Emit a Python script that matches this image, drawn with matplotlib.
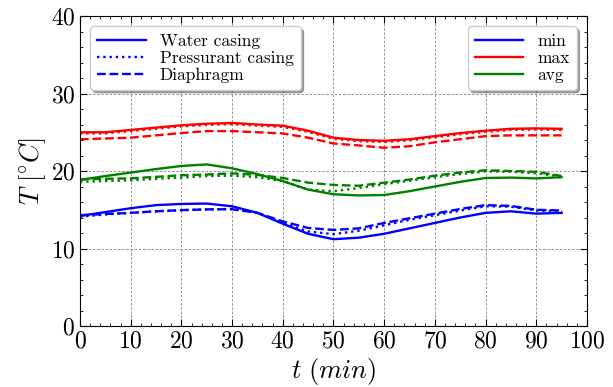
import matplotlib
matplotlib.use("Agg")
import matplotlib.pyplot as plt
from matplotlib.lines import Line2D
from matplotlib.ticker import AutoMinorLocator

# time axis (min)
t = [0, 5, 10, 15, 20, 25, 30, 35, 40, 45, 50, 55, 60, 65, 70, 75, 80, 85, 90, 95]

# water casing (solid)
water_min = [14.2, 14.7, 15.2, 15.6, 15.75, 15.8, 15.45, 14.6, 13.2, 11.9,
             11.2, 11.4, 11.9, 12.6, 13.3, 14.0, 14.6, 14.8, 14.5, 14.6]
water_max = [25.0, 25.0, 25.3, 25.6, 25.9, 26.1, 26.2, 26.0, 25.85, 25.2,
             24.3, 24.0, 23.9, 24.1, 24.5, 24.9, 25.2, 25.45, 25.5, 25.45]
water_avg = [18.85, 19.35, 19.8, 20.25, 20.65, 20.85, 20.35, 19.6, 18.7, 17.6,
             17.0, 16.85, 16.9, 17.4, 18.0, 18.6, 19.1, 19.15, 19.05, 19.2]

# pressurant casing (dotted)
press_min = [14.1, 14.4, 14.6, 14.8, 14.95, 15.05, 15.1, 14.6, 13.3, 12.2,
             11.85, 12.3, 13.0, 13.7, 14.3, 14.9, 15.45, 15.4, 14.9, 14.8]
press_max = [24.85, 24.85, 25.15, 25.45, 25.75, 25.95, 26.05, 25.85, 25.7, 25.05,
             24.15, 23.85, 23.75, 23.95, 24.35, 24.75, 25.05, 25.3, 25.35, 25.3]
press_avg = [18.6, 18.7, 18.8, 19.0, 19.15, 19.35, 19.4, 19.2, 18.7, 17.6,
             17.4, 17.8, 18.3, 18.75, 19.2, 19.6, 19.95, 19.9, 19.7, 19.3]

# diaphragm (dashed)
diaph_min = [14.3, 14.45, 14.6, 14.8, 14.95, 15.05, 15.07, 14.6, 13.5, 12.65,
             12.4, 12.6, 13.3, 13.9, 14.5, 15.1, 15.6, 15.5, 15.0, 14.9]
diaph_max = [24.1, 24.2, 24.3, 24.6, 24.9, 25.15, 25.15, 25.0, 24.85, 24.3,
             23.55, 23.3, 23.0, 23.2, 23.7, 24.1, 24.5, 24.6, 24.6, 24.6]
diaph_avg = [18.9, 19.0, 19.05, 19.25, 19.45, 19.55, 19.7, 19.5, 19.1, 18.5,
             18.2, 18.1, 18.5, 18.9, 19.4, 19.8, 20.1, 20.0, 19.9, 19.35]

plt.rcParams["font.family"] = "serif"
plt.rcParams["font.serif"] = ["cmr10"]
plt.rcParams["mathtext.fontset"] = "cm"
plt.rcParams["axes.formatter.use_mathtext"] = True

fig = plt.figure(figsize=(6.13, 3.87), dpi=100)
ax = fig.add_axes([0.1305, 0.1576, 0.827, 0.801])

parts = [
    (water_min, water_max, water_avg, "-"),
    (press_min, press_max, press_avg, ":"),
    (diaph_min, diaph_max, diaph_avg, "--"),
]
for tmin, tmax, tavg, ls in parts:
    ax.plot(t, tmin, color="blue", ls=ls, lw=1.7)
    ax.plot(t, tmax, color="red", ls=ls, lw=1.7)
    ax.plot(t, tavg, color="green", ls=ls, lw=1.7)

ax.set_xlim(0, 100)
ax.set_ylim(0, 40)
ax.set_xticks(range(0, 101, 10))
ax.set_yticks(range(0, 41, 10))
ax.xaxis.set_minor_locator(AutoMinorLocator(5))
ax.yaxis.set_minor_locator(AutoMinorLocator(5))
ax.tick_params(which="both", direction="in", top=True, right=True, labelsize=17)
ax.tick_params(which="major", length=5)
ax.tick_params(which="minor", length=2.5)
ax.grid(True, ls=(0, (3, 2)), color="gray", lw=0.6)

ax.set_xlabel(r"$t\ (min)$", fontsize=19, labelpad=2)
ax.set_ylabel(r"$T\ [^{\circ}C]$", fontsize=19, labelpad=2)

# legends
style_handles = [Line2D([], [], color="blue", ls="-", lw=1.7),
                 Line2D([], [], color="blue", ls=":", lw=1.7),
                 Line2D([], [], color="blue", ls="--", lw=1.7)]
leg1 = ax.legend(style_handles, ["Water casing", "Pressurant casing", "Diaphragm"],
                 loc="upper left", fontsize=12.5, shadow=True, fancybox=True,
                 framealpha=1, labelspacing=0.1, handlelength=2.8,
                 borderaxespad=0.6)
ax.add_artist(leg1)
color_handles = [Line2D([], [], color="blue", lw=1.7),
                 Line2D([], [], color="red", lw=1.7),
                 Line2D([], [], color="green", lw=1.7)]
ax.legend(color_handles, ["min", "max", "avg"], loc="upper right",
          fontsize=12.5, shadow=True, fancybox=True, framealpha=1,
          labelspacing=0.1, handlelength=2.8, borderaxespad=0.6)

fig.savefig("out.png", dpi=100)
